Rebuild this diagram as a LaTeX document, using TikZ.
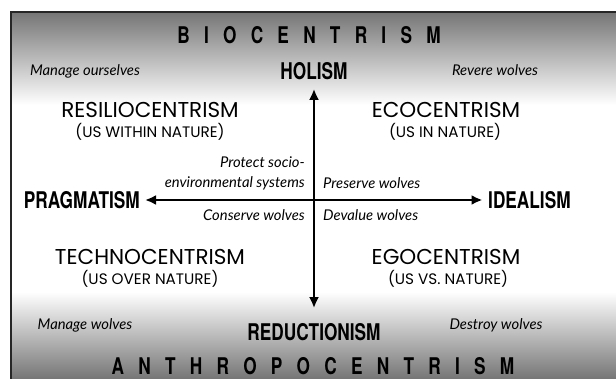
\documentclass[tikz,border=0pt]{standalone}
\usepackage{fontspec}
\newfontfamily\quadfont{Poppins}
\newfontfamily\actfont{Lato}
\newfontfamily\polefont[FakeStretch=0.75]{TeX Gyre Heros}
\newfontfamily\bandfont[FakeStretch=0.75,LetterSpace=62]{TeX Gyre Heros}
\usetikzlibrary{arrows.meta}

\begin{document}
\begin{tikzpicture}[x=1pt,y=-1pt,
    quad/.style={font=\quadfont\fontsize{21.5}{21.5}\selectfont, inner sep=0pt},
    sub/.style={font=\quadfont\fontsize{15.2}{15.2}\selectfont, inner sep=0pt},
    act/.style={font=\actfont\itshape\fontsize{14.8}{20}\selectfont, inner sep=0pt},
    pole/.style={font=\polefont\bfseries\fontsize{23}{23}\selectfont, inner sep=0pt},
    band/.style={font=\bandfont\bfseries\fontsize{23}{23}\selectfont, inner sep=0pt},
    axis/.style={line width=2.4pt, {Latex[length=11pt,width=10pt]}-{Latex[length=11pt,width=10pt]}}]
  \useasboundingbox (0,0) rectangle (616,379);
  % frame with its shaded bands
  \fill[white] (11,12) rectangle (616,379);
  \shade[top color=black!54, bottom color=white] (11,12) rectangle (616,105);
  \shade[top color=white, bottom color=black!54] (11,292) rectangle (616,379);
  \draw[line width=2.5pt, black!85] (616,12) -- (11,12) -- (11,379);

  % bands
  \node[band] (bio) at (309,35) {BIOCENTRISM};
  \node[band] (anth) at (313,366) {ANTHROPOCENTRISM};

  % poles
  \node[pole] (hol) at (314,71) {HOLISM};
  \node[pole] (red) at (314,332) {REDUCTIONISM};
  \node[pole, anchor=east] (prag) at (140,200) {PRAGMATISM};
  \node[pole, anchor=west] (ideal) at (488,200) {IDEALISM};

  % quadrants
  \node[quad] (res) at (150,110) {RESILIOCENTRISM};
  \node[sub] (resu) at (150,132) {(US WITHIN NATURE)};
  \node[quad] (eco) at (446,110) {ECOCENTRISM};
  \node[sub] (ecou) at (445,132) {(US IN NATURE)};
  \node[quad] (tec) at (150,257) {TECHNOCENTRISM};
  \node[sub] (tecu) at (150,279) {(US OVER NATURE)};
  \node[quad] (ego) at (446,257) {EGOCENTRISM};
  \node[sub] (egou) at (448,279) {(US VS. NATURE)};

  % attitudes to wolves
  \node[act] (mo) at (85,71) {Manage ourselves};
  \node[act] (rw) at (495,70) {Revere wolves};
  \node[act] (mw) at (85,325) {Manage wolves};
  \node[act] (dw) at (496,325) {Destroy wolves};
  \node[act, anchor=east, align=right] (pse) at (305,173) {Protect socio-\\environmental systems};
  \node[act, anchor=west] (pw) at (323,183) {Preserve wolves};
  \node[act, anchor=east] (cw) at (305,215) {Conserve wolves};
  \node[act, anchor=west] (dvw) at (323,215) {Devalue wolves};

  % axes
  \draw[axis, shorten <=9pt, shorten >=15pt] (hol.south) -- (red.north);
  \draw[axis, shorten <=5pt, shorten >=5.5pt] (prag.east) -- (ideal.west);
\end{tikzpicture}
\end{document}
